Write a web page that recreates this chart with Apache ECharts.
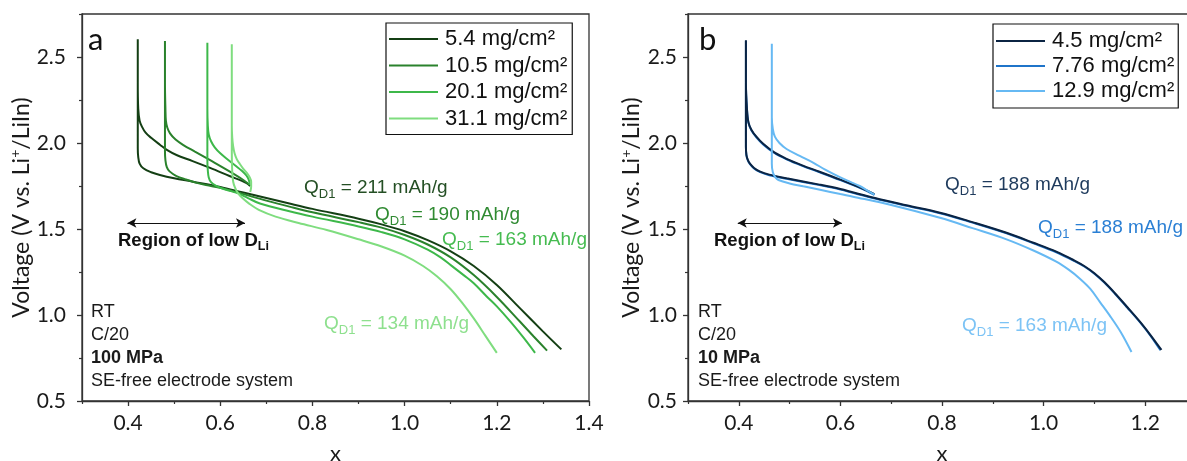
<!DOCTYPE html>
<html>
<head>
<meta charset="utf-8">
<script src="https://cdn.jsdelivr.net/npm/echarts@6/dist/echarts.min.js"></script>
<style>html,body{margin:0;padding:0;background:#fff}#c{width:1187px;height:461px}</style>
</head>
<body>
<div id="c"></div>
<script>
// ---- tick values ----
const xLabelsA = [0.4, 0.6, 0.8, 1.0, 1.2, 1.4];
const xMinorA = [0.3, 0.5, 0.7, 0.9, 1.1, 1.3];
const xLabelsB = [0.4, 0.6, 0.8, 1.0, 1.2];
const xMinorB = [0.3, 0.5, 0.7, 0.9, 1.1, 1.3];
const yLabels = [0.5, 1.0, 1.5, 2.0, 2.5];
const yMinor = [0.75, 1.25, 1.75, 2.25, 2.75];

// ---- panel a series (x, V) ----
const namesA = ['5.4 mg/cm²', '10.5 mg/cm²', '20.1 mg/cm²', '31.1 mg/cm²'];
const a54 = [[0.665,1.75],[0.657,1.767],[0.62,1.808],[0.578,1.855],[0.54,1.895],[0.505,1.93],[0.485,1.958],[0.469,1.99],[0.45,2.03],[0.438,2.06],[0.43,2.095],[0.425,2.13],[0.422,2.2],[0.421,2.35],[0.421,2.603],
 [0.421,2.35],[0.421,2.1],[0.421,1.97],[0.422,1.92],[0.425,1.88],[0.433,1.853],[0.45,1.83],[0.469,1.814],[0.5,1.795],[0.541,1.775],[0.6,1.745],[0.65,1.712],[0.7,1.68],[0.75,1.648],[0.8,1.617],[0.9,1.56],[0.95,1.527],[1.0,1.487],[1.05,1.435],[1.1,1.37],[1.15,1.285],[1.2,1.175],[1.25,1.04],[1.3,0.905],[1.34,0.80]];
const a105 = [[0.664,1.756],[0.65,1.785],[0.62,1.835],[0.578,1.90],[0.545,1.95],[0.52,1.988],[0.503,2.02],[0.491,2.056],[0.485,2.09],[0.482,2.13],[0.481,2.2],[0.48,2.35],[0.48,2.593],
 [0.48,2.35],[0.48,2.1],[0.48,1.95],[0.481,1.90],[0.484,1.86],[0.49,1.835],[0.505,1.808],[0.525,1.788],[0.549,1.768],[0.58,1.75],[0.614,1.73],[0.65,1.703],[0.7,1.665],[0.75,1.63],[0.8,1.597],[0.9,1.54],[0.95,1.508],[1.0,1.465],[1.05,1.41],[1.1,1.335],[1.15,1.232],[1.2,1.105],[1.25,0.962],[1.28,0.875],[1.309,0.793]];
const a201 = [[0.664,1.756],[0.662,1.785],[0.657,1.81],[0.646,1.84],[0.636,1.862],[0.618,1.9],[0.6,1.94],[0.588,1.975],[0.58,2.01],[0.575,2.05],[0.573,2.1],[0.572,2.2],[0.572,2.583],
 [0.572,2.2],[0.572,1.9],[0.573,1.84],[0.575,1.80],[0.58,1.772],[0.59,1.752],[0.6,1.74],[0.62,1.722],[0.636,1.71],[0.66,1.68],[0.686,1.648],[0.75,1.603],[0.8,1.572],[0.9,1.515],[0.95,1.482],[1.0,1.44],[1.05,1.38],[1.078,1.335],[1.1,1.29],[1.128,1.232],[1.15,1.185],[1.178,1.108],[1.2,1.05],[1.23,0.96],[1.258,0.868],[1.283,0.78]];
const a311 = [[0.665,1.715],[0.667,1.745],[0.667,1.775],[0.664,1.80],[0.658,1.825],[0.65,1.85],[0.642,1.88],[0.636,1.905],[0.631,1.94],[0.628,1.98],[0.626,2.03],[0.625,2.1],[0.625,2.25],[0.625,2.574],
 [0.625,2.25],[0.625,1.95],[0.626,1.83],[0.628,1.775],[0.632,1.74],[0.638,1.71],[0.648,1.68],[0.664,1.645],[0.686,1.608],[0.72,1.572],[0.77,1.535],[0.831,1.494],[0.9,1.44],[0.95,1.398],[1.0,1.345],[1.04,1.285],[1.07,1.225],[1.1,1.15],[1.125,1.07],[1.15,0.98],[1.175,0.88],[1.2,0.78]];

// ---- panel b series ----
const namesB = ['4.5 mg/cm²', '7.76 mg/cm²', '12.9 mg/cm²'];
const b45 = [[0.667,1.703],[0.655,1.72],[0.638,1.742],[0.6,1.787],[0.559,1.833],[0.525,1.87],[0.494,1.908],[0.47,1.945],[0.448,1.995],[0.435,2.035],[0.425,2.076],[0.419,2.12],[0.416,2.2],[0.414,2.35],[0.414,2.597],
 [0.414,2.35],[0.414,2.1],[0.414,1.98],[0.415,1.93],[0.418,1.9],[0.422,1.88],[0.43,1.855],[0.441,1.835],[0.46,1.816],[0.494,1.795],[0.559,1.758],[0.6,1.732],[0.668,1.68],[0.73,1.638],[0.796,1.595],[0.86,1.54],[0.927,1.478],[0.98,1.42],[1.025,1.368],[1.06,1.318],[1.08,1.285],[1.1,1.243],[1.12,1.19],[1.14,1.128],[1.165,1.045],[1.19,0.96],[1.21,0.885],[1.232,0.797]];
const b776 = [[0.667,1.698],[0.655,1.716],[0.638,1.739],[0.6,1.784],[0.559,1.83],[0.525,1.867],[0.494,1.905],[0.47,1.942],[0.448,1.992],[0.435,2.032],[0.425,2.073],[0.419,2.118],[0.416,2.2],[0.414,2.35],[0.414,2.595],
 [0.414,2.35],[0.414,2.1],[0.414,1.98],[0.415,1.93],[0.418,1.897],[0.422,1.877],[0.43,1.852],[0.441,1.832],[0.46,1.813],[0.494,1.792],[0.559,1.755],[0.6,1.729],[0.668,1.677],[0.73,1.635],[0.796,1.592],[0.86,1.537],[0.927,1.475],[0.98,1.417],[1.025,1.365],[1.06,1.315],[1.08,1.282],[1.1,1.24],[1.12,1.187],[1.14,1.125],[1.165,1.042],[1.19,0.957],[1.21,0.882],[1.23,0.795]];
const b129 = [[0.667,1.70],[0.655,1.72],[0.638,1.75],[0.6,1.80],[0.57,1.845],[0.547,1.885],[0.52,1.925],[0.494,1.965],[0.48,2.0],[0.471,2.037],[0.467,2.08],[0.465,2.15],[0.465,2.3],[0.465,2.577],
 [0.465,2.3],[0.465,2.0],[0.465,1.88],[0.467,1.83],[0.472,1.80],[0.478,1.785],[0.5,1.765],[0.527,1.748],[0.56,1.728],[0.6,1.703],[0.625,1.688],[0.7,1.64],[0.796,1.565],[0.86,1.505],[0.927,1.44],[0.98,1.375],[1.025,1.31],[1.05,1.262],[1.072,1.21],[1.092,1.152],[1.111,1.075],[1.13,0.998],[1.152,0.9],[1.173,0.785]];

// ---- annotations ----
const qA = ['211', '190', '163', '134'];
const qB = ['188', '188', '163'];
const condA = ['RT', 'C/20', '100 MPa', 'SE-free electrode system'];
const condB = ['RT', 'C/20', '10 MPa', 'SE-free electrode system'];
const arrowA = [[0.3985, 1.535], [0.6536, 1.535]];
const arrowB = [[0.398, 1.535], [0.603, 1.535]];

const colorsA = ['#143f14', '#2a822c', '#3db84a', '#7fdd7f'];
const textColA = ['#244f24', '#2f8a31', '#45bb50', '#8ee08e'];
const colorsB = ['#0b2443', '#1f74c9', '#66b9f3'];
const textColB = ['#1e3a5c', '#2a7fd4', '#7cc3f5'];

const AX = '#333';
const TICKFONT = 'Lato, "Noto Sans", sans-serif';
const ARIAL = '"Liberation Sans", Arial, sans-serif';

function xMain(g, max, labels) {
  return {type:'value', gridIndex:g, position:'bottom', min:0.3, max:max,
    axisLine:{show:true, onZero:false, lineStyle:{color:AX, width:1.3}},
    axisTick:{show:true, customValues:labels, length:5, lineStyle:{color:AX, width:1.3}},
    axisLabel:{customValues:labels, formatter:v=>v.toFixed(1), margin:12, fontSize:21, fontFamily:TICKFONT, color:'#1a1a1a'},
    splitLine:{show:false},
    name:'x', nameLocation:'middle', nameGap:42,
    nameTextStyle:{fontSize:22, fontFamily:TICKFONT, color:'#1a1a1a'}};
}
function xMinor(g, max, vals) {
  return {type:'value', gridIndex:g, position:'bottom', min:0.3, max:max,
    axisLine:{show:false, onZero:false}, axisTick:{show:true, customValues:vals, length:3, lineStyle:{color:AX, width:1.2}},
    axisLabel:{show:false}, splitLine:{show:false}};
}
function yMain(g, margin) {
  return {type:'value', gridIndex:g, position:'left', min:0.5, max:2.75,
    axisLine:{show:true, onZero:false, lineStyle:{color:AX, width:1.3}},
    axisTick:{show:true, customValues:yLabels, length:5, lineStyle:{color:AX, width:1.3}},
    axisLabel:{customValues:yLabels, formatter:v=>v.toFixed(1), margin:margin, fontSize:21, fontFamily:TICKFONT, color:'#1a1a1a'},
    splitLine:{show:false},
    name:'{a|Voltage (V vs. Li}{s|+}{a|/LiIn)}', nameLocation:'middle', nameGap:43, nameRotate:90,
    nameTextStyle:{fontSize:23, fontFamily:TICKFONT, color:'#1a1a1a',
      rich:{a:{fontSize:23, fontFamily:TICKFONT, color:'#1a1a1a', lineHeight:26},
            s:{fontSize:14, fontFamily:TICKFONT, color:'#1a1a1a', verticalAlign:'top', lineHeight:26}}}};
}
function yMinorAx(g) {
  return {type:'value', gridIndex:g, position:'left', min:0.5, max:2.75,
    axisLine:{show:false, onZero:false}, axisTick:{show:true, customValues:yMinor, length:3, lineStyle:{color:AX, width:1.2}},
    axisLabel:{show:false}, splitLine:{show:false}};
}

function curve(name, data, color, xi, yi, z) {
  return {name:name, type:'line', xAxisIndex:xi, yAxisIndex:yi, data:data, symbol:'none', smooth:0.35,
    lineStyle:{color:color, width:2}, itemStyle:{color:color}, z:z, silent:true, animation:false};
}
function arrowSeries(coords, xi, yi) {
  return {type:'line', xAxisIndex:xi, yAxisIndex:yi, data:[], silent:true, animation:false,
    markLine:{silent:true, symbol:['arrow','arrow'], symbolSize:[7,9], animation:false,
      label:{show:false}, lineStyle:{color:'#111', width:1.1, type:'solid'},
      data:[[{coord:coords[0]},{coord:coords[1]}]]}};
}

function qText(x, y, val, color) {
  return {type:'text', x:x, y:y, silent:true,
    style:{text:'{m|Q}{s|D1}{m| = ' + val + ' mAh/g}', align:'left', verticalAlign:'middle',
      rich:{m:{fontSize:19, fontFamily:ARIAL, fill:color, lineHeight:25, verticalAlign:'middle'},
            s:{fontSize:13, fontFamily:ARIAL, fill:color, lineHeight:25, verticalAlign:'bottom'}}}};
}
function regionText(x, y) {
  return {type:'text', x:x, y:y, silent:true,
    style:{text:'{m|Region of low D}{s|Li}', align:'left', verticalAlign:'middle',
      rich:{m:{fontSize:18.5, fontWeight:'bold', fontFamily:ARIAL, fill:'#111', lineHeight:24, verticalAlign:'middle'},
            s:{fontSize:12.5, fontWeight:'bold', fontFamily:ARIAL, fill:'#111', lineHeight:24, verticalAlign:'bottom'}}}};
}
function condTexts(x, lines) {
  const ys = [312, 335, 358, 381];
  return lines.map((t, i) => ({type:'text', x:x, y:ys[i], silent:true,
    style:{text:t, align:'left', verticalAlign:'middle', fontSize:18, fontFamily:ARIAL,
      fontWeight: i === 2 ? 'bold' : 'normal', fill:'#1a1a1a'}}));
}

const legendBase = {orient:'vertical', selectedMode:false, borderColor:'#111', borderWidth:1.2,
  icon:'rect', itemWidth:49, itemHeight:2, itemGap:4.5, backgroundColor:'#fff',
  textStyle:{fontSize:22, fontFamily:ARIAL, color:'#111', lineHeight:22, padding:[0,0,0,2]}};

const option = {
  animation:false,
  backgroundColor:'#fff',
  grid:[
    {left:82, top:14, width:507, height:387, show:true, borderColor:AX, borderWidth:1.3, backgroundColor:'transparent', outerBoundsMode:'none', containLabel:false},
    {left:688, top:14, width:508, height:387, show:true, borderColor:AX, borderWidth:1.3, backgroundColor:'transparent', outerBoundsMode:'none', containLabel:false}
  ],
  xAxis:[ xMain(0, 1.4, xLabelsA), xMinor(0, 1.4, xMinorA), xMain(1, 1.3, xLabelsB), xMinor(1, 1.3, xMinorB) ],
  yAxis:[ yMain(0, 16), yMinorAx(0), yMain(1, 11), yMinorAx(1) ],
  legend:[
    Object.assign({}, legendBase, {left:386, top:23, padding:[5,5,5,3], data:namesA}),
    Object.assign({}, legendBase, {left:993, top:24, padding:[6,4,6,3], itemGap:3, data:namesB})
  ],
  series:[
    curve(namesA[0], a54, colorsA[0], 0, 0, 5),
    curve(namesA[1], a105, colorsA[1], 0, 0, 6),
    curve(namesA[2], a201, colorsA[2], 0, 0, 7),
    curve(namesA[3], a311, colorsA[3], 0, 0, 8),
    curve(namesB[1], b776, colorsB[1], 2, 2, 5),
    curve(namesB[0], b45, colorsB[0], 2, 2, 6),
    curve(namesB[2], b129, colorsB[2], 2, 2, 7),
    arrowSeries(arrowA, 0, 0),
    arrowSeries(arrowB, 2, 2)
  ],
  graphic:[
    {type:'text', x:88, y:40, silent:true, style:{text:'a', fontSize:31, fontFamily:TICKFONT, fill:'#111', verticalAlign:'middle'}},
    {type:'text', x:699, y:40, silent:true, style:{text:'b', fontSize:31, fontFamily:TICKFONT, fill:'#111', verticalAlign:'middle'}},
    qText(304, 188, qA[0], textColA[0]),
    qText(375, 215, qA[1], textColA[1]),
    qText(442, 240, qA[2], textColA[2]),
    qText(324, 324, qA[3], textColA[3]),
    qText(945, 185, qB[0], textColB[0]),
    qText(1038, 228, qB[1], textColB[1]),
    qText(962, 326, qB[2], textColB[2]),
    regionText(118, 241),
    regionText(714, 241)
  ].concat(condTexts(91, condA), condTexts(698, condB))
};

const chart = echarts.init(document.getElementById('c'), null, {renderer:'canvas'});
chart.setOption(option);
</script>
</body>
</html>
